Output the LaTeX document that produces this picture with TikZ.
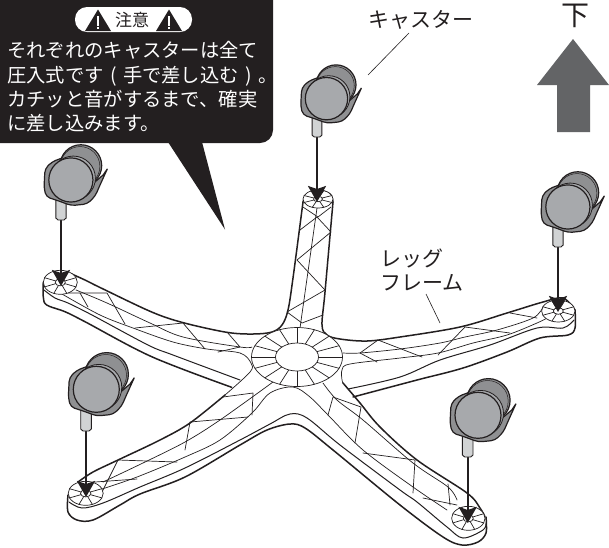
\documentclass[tikz,border=0pt]{standalone}
\usepackage{fontspec}
\newfontfamily\jp{Noto Sans CJK JP}
\usetikzlibrary{arrows.meta}
\definecolor{ink}{HTML}{231F20}
\definecolor{wheelgrey}{HTML}{A7A9AC}
\definecolor{forkgrey}{HTML}{8F9092}
\definecolor{stemgrey}{HTML}{D1D3D4}
\definecolor{bigarrow}{HTML}{636466}
\tikzset{
  thickline/.style={draw=ink,line width=1.5pt,line join=round,line cap=round},
  thinline/.style={draw=ink,line width=.7pt,line join=round,line cap=round},
  sideline/.style={draw=ink,line width=1pt,line join=round,line cap=round},
  dropline/.style={draw=ink,line width=2.4pt,-{Stealth[width=18pt,length=16pt,inset=3pt]}},
  leader/.style={draw=ink,line width=.6pt},
  label/.style={text=ink,font=\jp\fontsize{21}{24}\selectfont,inner sep=0pt},
  casterpic/.pic={
    \draw[draw=ink,line width=.9pt,fill=stemgrey] (-5.3,-24) -- (-5.3,-2) -- (-3,0) -- (3,0) -- (5.3,-2) -- (5.3,-24) -- cycle;
    \draw[draw=ink,line width=1.2pt,fill=forkgrey,rounded corners=4pt] (2.3,-65) -- (-9.3,-60.7) -- (-16.7,-53.3) -- (-17.7,-33.3) -- (-15.3,-24) -- (-2.7,-20) -- (10.7,-15) -- (27.3,-16.7) -- (35.7,-25) -- (40,-35) [sharp corners] -- (48.3,-53.3) -- (44,-47) -- (30,-35) -- cycle;
    \draw[draw=ink,line width=1.2pt,fill=forkgrey] (20.7,-56.7) circle[radius=21.7pt];
    \draw[draw=ink,line width=.5pt] (19.9,-55.9) circle[radius=20.6pt];
    \draw[draw=ink,line width=.8pt,fill=wheelgrey] (12.8,-43.6) circle[radius=23pt];
    \draw[draw=ink,line width=1.2pt,fill=wheelgrey] (10.3,-41.7) circle[radius=23pt];
  }
}
\newcommand\padmark[4]{%
  \draw[thinline,fill=white] (#1,#2) ellipse[x radius=#3pt,y radius=#4pt];
  \foreach \a in {22.5,67.5,...,337.5}
    \draw[thinline] ({#1+.3*#3*cos(\a)},{#2+.3*#4*sin(\a)}) -- ({#1+#3*cos(\a)},{#2+#4*sin(\a)});
  \draw[thinline] (#1,#2) ellipse[x radius={.3*#3 pt},y radius={.3*#4 pt}];
}
\begin{document}
\begin{tikzpicture}[x=1pt,y=-1pt]
\path[use as bounding box,fill=white] (0,0) rectangle (609,547);

% ---- outer contour, top surface
\draw[thickline] plot[smooth,tension=.55] coordinates {(71.7,274)(85,280)(101.7,288.3)(151.7,312)(183.3,322.7)(226.7,332.3)(253,334)(272,332)(282,325)(288,310)(293,278)(303,202)};
\draw[thickline] plot[smooth,tension=.55] coordinates {(303,202)(307,194)(318,190)(330,194)(333,202)};
\draw[thickline] plot[smooth,tension=.55] coordinates {(333,202)(325,292)(322,325)(327,335)(340,339)(367,341)(400,337)(460,327)(507,313)(543,302)(563,298)(575,310)};
\draw[thickline] plot[smooth,tension=.55] coordinates {(78,482)(93,472)(118,460)(160,440)(190,423)(225,395)};
\draw[thickline] plot[smooth,tension=.55] coordinates {(343,383)(360,403)(380,427)(417,460)(467,493)(480,508)(485,517)};

% ---- outer contour, bottom edge
\draw[thickline] plot[smooth,tension=.55] coordinates {(43.3,282)(43.3,297)(46.7,305)(65,311.7)(85,321.7)(151.7,356.7)(231.7,387.3)};
\draw[thickline] plot[smooth,tension=.55] coordinates {(68,495)(68,512)(77,520)(93,520)(120,505)(140,494)(185,477)(240,445)(267,430)(290,424)(305,428)(333,450)(400,505)(443,537)(462,545)(478,542)(486,533)(486,517)};
\draw[thickline] plot[smooth,tension=.55] coordinates {(575,310)(575,328)(568,335)(540,338)(507,352)(463,368)(417,380)(353,397)};

% ---- rims
\draw[sideline] plot[smooth,tension=.55] coordinates {(44,290)(55,298)(68,303)(92,315)(148,345)(173,355)(240,380)};
\draw[sideline] plot[smooth,tension=.55] coordinates {(69,502)(82,508)(103,503)(140,487)(185,468)(240,440)(270,424)(290,414)(307,418)(340,445)(400,490)(417,502)(447,527)(463,538)(483,530)(486,523)};
\draw[sideline] plot[smooth,tension=.55] coordinates {(348,389)(400,377)(440,360)(490,345)(537,328)(563,328)(574,320)};

% ---- inner lines
\draw[thinline] plot[smooth,tension=.55] coordinates {(76,290)(107,303)(150,323)(183,337)(240,347)(252,347)};
\draw[thinline] plot[smooth,tension=.55] coordinates {(62,294)(100,315)(133,328)(173,342)(207,349)(240,353)(251,363)(250,372)(225,395)};
\draw[thinline] plot[smooth,tension=.55] coordinates {(103,482)(145,462)(185,442)(220,420)(273,382)};
\draw[thinline] plot[smooth,tension=.55] coordinates {(102,489)(137,477)(185,457)(220,440)(252,413)(270,393)(293,387)(310,397)(328,415)(363,450)(413,487)(447,510)};
\draw[thinline] plot[smooth,tension=.55] coordinates {(323,383)(337,400)(363,420)(413,463)(448,487)(457,500)};
\draw[thinline] plot[smooth,tension=.55] coordinates {(343,353)(360,353)(400,349)(440,343)(465,337)(497,330)(533,318)(543,307)};
\draw[thinline] plot[smooth,tension=.55] coordinates {(547,318)(537,323)(507,335)(473,343)(438,353)(400,358)(350,364)(342,370)(342,380)(343,383)};
\draw[thinline] (317,208) -- (300,328);

% ---- truss, left leg
\draw[thinline] (68,293) -- (107,293) -- (125,324);
\draw[thinline] (80,293) -- (88,307);
\draw[thinline] (135,328) -- (183,323) -- (205,349);
\draw[thinline] (227,332) -- (240,347) -- (218,352);
% ---- truss, lower left leg
\draw[thinline] (177,462) -- (118,460) -- (102,492);
\draw[thinline] (95,482) -- (137,479);
\draw[thinline] (185,450) -- (190,422) -- (248,417);
\draw[thinline] (223,397) -- (253,393) -- (252,415);
% ---- truss, top leg
\draw[thinline] (303,207) -- (318,217) -- (331,207);
\draw[thinline] (300,230) -- (317,217) -- (331,232) -- (297,260) -- (325,290) -- (287,312) -- (302,323) -- (323,315);
% ---- truss, right leg
\draw[thinline] (377,362) -- (360,353) -- (378,340) -- (422,357);
\draw[thinline] (438,355) -- (465,327) -- (510,333);
\draw[thinline] (510,313) -- (537,318);
% ---- truss, lower right leg
\draw[thinline] (328,415) -- (333,397) -- (361,407) -- (355,443);
\draw[thinline] (363,453) -- (415,460) -- (413,493);
\draw[thinline] (448,484) -- (450,505);
\draw[thinline] (423,498) -- (457,505);

% ---- hub
\draw[thinline,fill=white] (297,357) ellipse[x radius=45.5pt,y radius=29.5pt];
\foreach \a in {0,22.5,...,337.5}
  \draw[thinline] ({297+21.5*cos(\a)},{357+14*sin(\a)}) -- ({297+45.5*cos(\a)},{357+29.5*sin(\a)});
\draw[thinline,fill=white] (297,357) ellipse[x radius=21.5pt,y radius=14pt];

% ---- pads
\padmark{60.3}{282.3}{17}{12}
\padmark{85.7}{493.3}{17.5}{12}
\padmark{468.3}{518.3}{16.7}{12}
\padmark{558.3}{311}{16.7}{11}
\padmark{318}{199}{15}{9}

% ---- casters
\coordinate (s1) at (317,137);   \coordinate (t1) at (317,202);
\coordinate (s2) at (61,220);    \coordinate (t2) at (61,286);
\coordinate (s3) at (558,247);   \coordinate (t3) at (558,312);
\coordinate (s4) at (86,431);    \coordinate (t4) at (86,497);
\coordinate (s5) at (467.7,457); \coordinate (t5) at (467.7,523);
\draw[dropline] (s1) -- (t1);
\draw[dropline] (s2) -- (t2);
\draw[dropline] (s3) -- (t3);
\draw[dropline] (s4) -- (t4);
\draw[dropline] (s5) -- (t5);
\pic[scale=.92] at (s1) {casterpic};
\pic[scale=.96] at (s2) {casterpic};
\pic[scale=.96] at (s3) {casterpic};
\pic at (s4) {casterpic};
\pic at (s5) {casterpic};

% ---- callout
\fill[ink,rounded corners=13pt] (-20,-20) -- (273,-20) -- (273,143) -- (-20,143) -- cycle;
\fill[ink] (168,142) -- (225,229.5) -- (202,142) -- cycle;
\fill[white,rounded corners=12pt] (75,7) rectangle (192,32);
\fill[ink] (98,9.5) -- (111,31) -- (85,31) -- cycle;
\fill[ink] (169,9.5) -- (182,31) -- (156,31) -- cycle;
\fill[white] (97.4,16) rectangle (98.6,25.5);
\fill[white] (97.4,27) rectangle (98.6,29);
\fill[white] (168.4,16) rectangle (169.6,25.5);
\fill[white] (168.4,27) rectangle (169.6,29);
\node[text=ink,font=\jp\fontsize{17}{18}\selectfont,inner sep=0pt] (attn) at (132,20) {注意};
\node[text=white,font=\jp\fontsize{19.3}{24.3}\selectfont,inner sep=0pt,align=left,anchor=west] (note) at (7,87) {それぞれのキャスターは全て\\圧入式です\makebox[19.3pt]{(}手で差し込む\makebox[19.3pt]{)}。\\カチッと音がするまで、確実\\に差し込みます。};

% ---- labels
\node[label] (caster) at (420.5,20) {キャスター};
\coordinate (casterend) at (368,75);
\draw[leader] (409,33) -- (casterend);
\node[label,anchor=west] (leg1) at (380,258) {レッグ};
\node[label,anchor=west] (leg2) at (380,283) {フレーム};
\coordinate (legstart) at (426,294);
\coordinate (legend) at (440,323);
\draw[leader] (legstart) -- (legend);
\node[text=ink,font=\jp\fontsize{28}{30}\selectfont,inner sep=0pt] (down) at (575.5,16) {下};
\fill[bigarrow] (573,39) -- (609,85) -- (590,85) -- (590,132) -- (557,132) -- (557,85) -- (537,85) -- cycle;
\end{tikzpicture}
\end{document}
